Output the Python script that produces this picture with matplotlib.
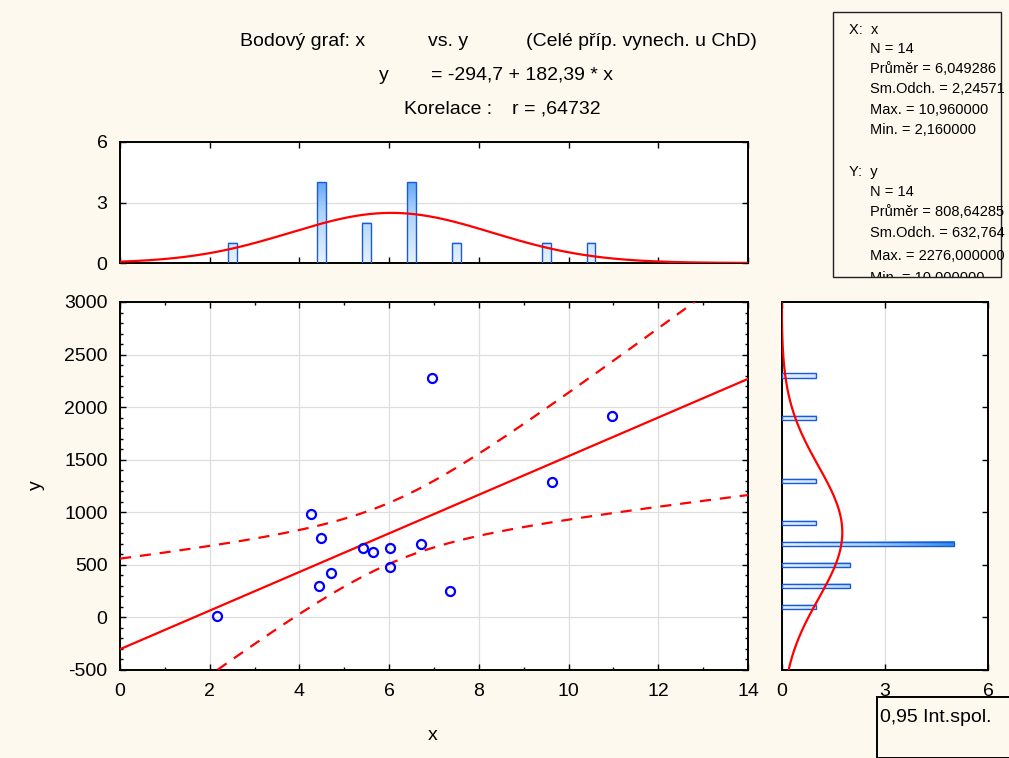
import numpy as np
import matplotlib
matplotlib.use('Agg')
import matplotlib.pyplot as plt
from matplotlib.colors import LinearSegmentedColormap
from matplotlib.patches import Rectangle

plt.rcParams['font.family'] = ['Liberation Sans', 'DejaVu Sans']
plt.rcParams['axes.unicode_minus'] = False

# data
x_vals = [2.16, 4.25, 4.47, 4.43, 4.70, 5.41, 5.65, 6.01, 6.03, 6.70, 6.95, 7.35, 9.62, 10.96]
y_vals = [10, 985, 755, 300, 422, 665, 620, 660, 476, 700, 2276, 251, 1285, 1915]

x_bin_edges = np.arange(0, 15, 1)
y_bin_edges = np.arange(-400, 3200, 200)

title_parts = [
    (240, 42, 'Bodový graf: x'), (428, 42, 'vs. y'), (526, 42, '(Celé příp. vynech. u ChD)'),
    (379, 75, 'y'), (431, 75, '= -294,7 + 182,39 * x'),
    (404, 109, 'Korelace :'), (512, 109, 'r = ,64732'),
]
stats_lines = [
    (849, 30, 'X:  x'), (870, 49, 'N = 14'), (870, 69, 'Průměr = 6,049286'),
    (870, 89, 'Sm.Odch. = 2,24571'), (870, 110, 'Max. = 10,960000'), (870, 130, 'Min. = 2,160000'),
    (849, 172, 'Y:  y'), (870, 192, 'N = 14'), (870, 212, 'Průměr = 808,64285'),
    (870, 233, 'Sm.Odch. = 632,764'), (870, 256, 'Max. = 2276,000000'), (870, 278, 'Min. = 10,000000'),
]

W, H = 1009, 758
bg = '#fef9ee'
fig = plt.figure(figsize=(W / 100, H / 100), dpi=100, facecolor=bg)


def fx(px):
    return px / W


def fy(py):
    return 1 - py / H


def rect(l, t, r, b):
    return [fx(l), fy(b), fx(r) - fx(l), fy(t) - fy(b)]


x = np.array(x_vals)
y = np.array(y_vals)
n = len(x)
mx, sx = x.mean(), x.std(ddof=1)
my, sy = y.mean(), y.std(ddof=1)

cm = LinearSegmentedColormap.from_list('bars', ['#e6f2fd', '#a9d2fb', '#2a86f2'])
edge = '#1a5ad6'
spine_w = 1.4


def style(ax):
    for s in ax.spines.values():
        s.set_linewidth(spine_w)
    ax.tick_params(which='both', direction='in', top=True, right=True, labelsize=14, width=1)
    ax.tick_params(which='major', length=4)
    ax.tick_params(which='minor', length=2.5)


# main scatter
ax = fig.add_axes(rect(120, 302, 748, 670))
slope, icpt = np.polyfit(x, y, 1)
xs = np.linspace(0, 14, 300)
yhat = icpt + slope * xs
resid = y - (icpt + slope * x)
s = np.sqrt((resid ** 2).sum() / (n - 2))
sxx = ((x - mx) ** 2).sum()
t_crit = 2.179
band = t_crit * s * np.sqrt(1 / n + (xs - mx) ** 2 / sxx)
ax.plot(xs, yhat, color='#ff0000', lw=1.6, zorder=3)
ax.plot(xs, yhat + band, color='#ff0000', lw=1.6, ls=(0, (5, 4)), zorder=3)
ax.plot(xs, yhat - band, color='#ff0000', lw=1.6, ls=(0, (5, 4)), zorder=3)
ax.plot(x, y, 'o', mfc='none', mec='#0000ff', ms=6.5, mew=1.6, zorder=4)
ax.set_xlim(0, 14)
ax.set_ylim(-500, 3000)
ax.set_xticks(np.arange(0, 15, 2))
ax.set_xticks(np.arange(0, 15, 1), minor=True)
ax.set_yticks(np.arange(-500, 3001, 500))
ax.set_yticks(np.arange(-500, 3001, 100), minor=True)
ax.grid(True, which='major', color='#dedede', lw=0.9)
ax.set_axisbelow(True)
style(ax)
ax.tick_params(axis='x', pad=9)
ax.tick_params(axis='y', pad=9)

# top histogram of x
axt = fig.add_axes(rect(120, 142, 748, 263))
cx, _ = np.histogram(x, bins=x_bin_edges)
centers = (x_bin_edges[:-1] + x_bin_edges[1:]) / 2
keep = cx > 0
bw = 0.2
for c, h in zip(centers[keep], cx[keep]):
    axt.imshow(np.linspace(0, h, 60).reshape(-1, 1), extent=(c - bw / 2, c + bw / 2, 0, h),
               origin='lower', aspect='auto', cmap=cm, vmin=0, vmax=5.2, zorder=2)
axt.bar(centers[keep], cx[keep], width=bw, fill=False, edgecolor=edge, lw=1, zorder=3)
pdf_x = n * 1.0 * np.exp(-0.5 * ((xs - mx) / sx) ** 2) / (sx * np.sqrt(2 * np.pi))
axt.plot(xs, pdf_x, color='#ff0000', lw=1.6, zorder=4)
axt.set_xlim(0, 14)
axt.set_ylim(0, 6)
axt.set_xticks(np.arange(0, 15, 2))
axt.set_yticks([0, 3, 6])
axt.grid(True, axis='y', color='#dedede', lw=0.9)
axt.set_axisbelow(True)
style(axt)
axt.tick_params(axis='x', labelbottom=False)
axt.tick_params(axis='y', pad=9)

# right histogram of y
axr = fig.add_axes(rect(781.5, 302, 988, 670))
cy, _ = np.histogram(y, bins=y_bin_edges)
ycent = (y_bin_edges[:-1] + y_bin_edges[1:]) / 2
keep = cy > 0
bh = 40
for c, w in zip(ycent[keep], cy[keep]):
    axr.imshow(np.linspace(0, w, 60).reshape(1, -1), extent=(0, w, c - bh / 2, c + bh / 2),
               origin='lower', aspect='auto', cmap=cm, vmin=0, vmax=5.2, zorder=2)
axr.barh(ycent[keep], cy[keep], height=bh, fill=False, edgecolor=edge, lw=1, zorder=3)
ys = np.linspace(-500, 3000, 400)
pdf_y = n * 200 * np.exp(-0.5 * ((ys - my) / sy) ** 2) / (sy * np.sqrt(2 * np.pi))
axr.plot(pdf_y, ys, color='#ff0000', lw=1.6, zorder=4)
axr.set_xlim(0, 6)
axr.set_ylim(-500, 3000)
axr.set_xticks([0, 3, 6])
axr.set_yticks(np.arange(-500, 3001, 500))
axr.grid(True, axis='x', color='#dedede', lw=0.9)
axr.set_axisbelow(True)
style(axr)
axr.tick_params(axis='y', labelleft=False, left=False)
axr.tick_params(axis='x', pad=9)

# titles
for px, py, txt in title_parts:
    fig.text(fx(px), fy(py), txt, ha='left', va='center', fontsize=14)
fig.text(fx(433), fy(735), 'x', ha='center', va='center', fontsize=14)
fig.text(fx(36), fy(485), 'y', ha='center', va='center', fontsize=14, rotation=90)

# stats box
axs = fig.add_axes(rect(833, 12, 1009, 277))
axs.set_xlim(833, 1009)
axs.set_ylim(277, 12)
axs.axis('off')
axs.add_patch(Rectangle((833.5, 12), 167.5, 265, fill=False, edgecolor='#222222', lw=1.0, clip_on=False))
for px, py, txt in stats_lines:
    axs.text(px, py, txt, ha='left', va='center', fontsize=10.5, clip_on=True)

# legend-like box bottom right
fig.patches.append(Rectangle((fx(877), 0), fx(200), fy(697), transform=fig.transFigure,
                             facecolor=bg, edgecolor='black', lw=1.4))
fig.text(fx(880), fy(717), '0,95 Int.spol.', ha='left', va='center', fontsize=14)

fig.savefig('out.png', dpi=100, facecolor=bg)
